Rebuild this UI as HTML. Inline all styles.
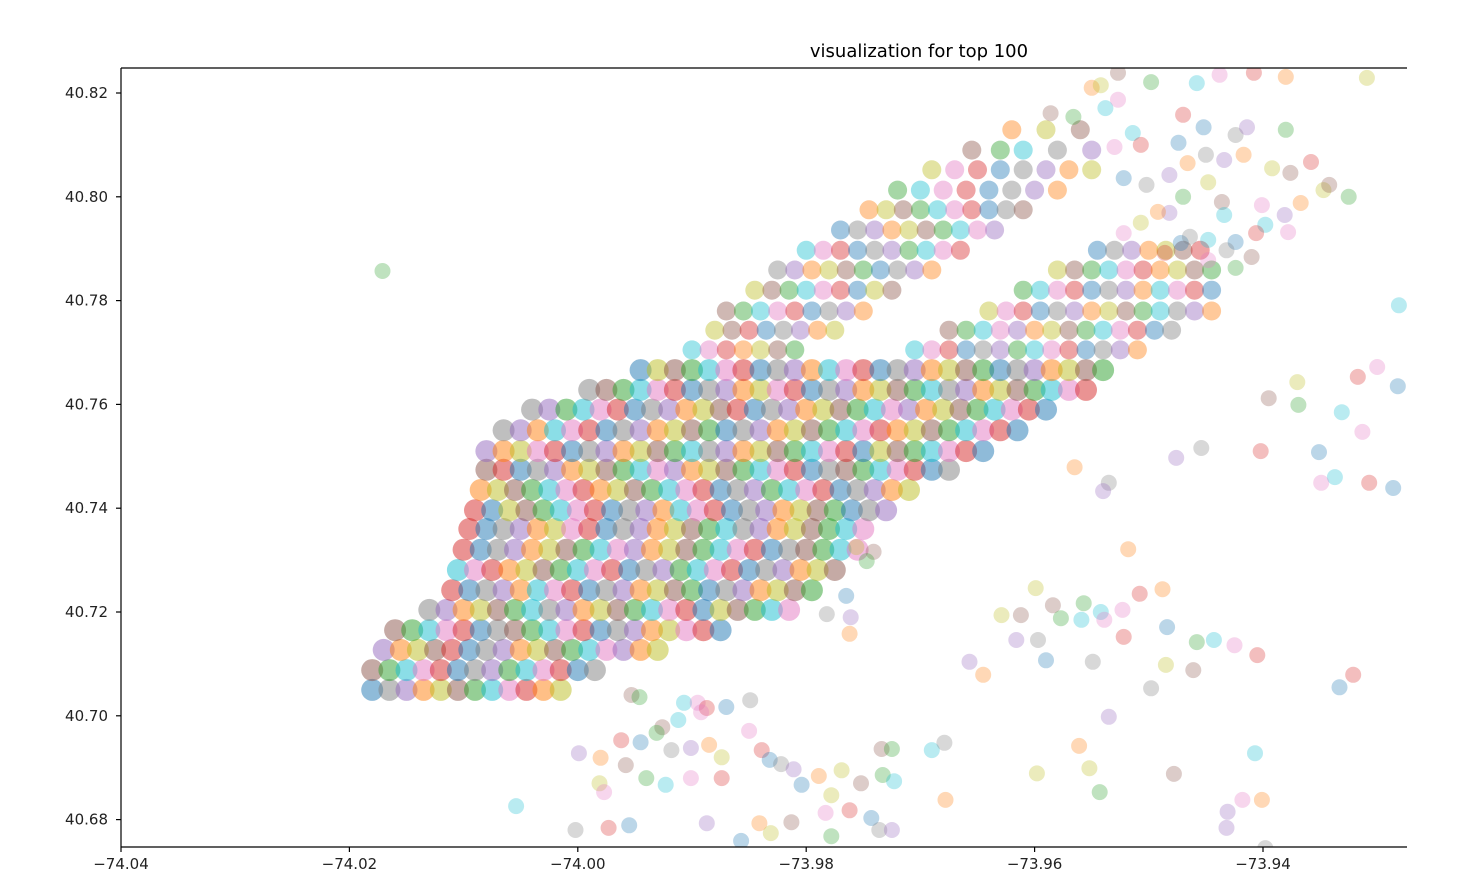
<!DOCTYPE html>
<html><head><meta charset="utf-8"><style>
html,body{margin:0;padding:0;background:#fff;}
svg{display:block;font-family:"DejaVu Sans","Liberation Sans",sans-serif;}
</style></head>
<body>
<svg id="chart" width="1478" height="892" viewBox="0 0 1478 892" xmlns="http://www.w3.org/2000/svg">
<defs><clipPath id="clip"><rect x="121" y="68" width="1286" height="779"/></clipPath></defs>
<text x="919" y="57" font-size="18" text-anchor="middle" fill="#000">visualization for top 100</text>
<g id="points" clip-path="url(#clip)"></g>
<g id="axes"></g>
</svg>
<script>
const xTicks=[-74.04,-74.02,-74.00,-73.98,-73.96,-73.94];
const xTickLabels=["\u221274.04","\u221274.02","\u221274.00","\u221273.98","\u221273.96","\u221273.94"];
const yTicks=[40.82,40.80,40.78,40.76,40.74,40.72,40.70,40.68];
const yTickLabels=["40.82","40.80","40.78","40.76","40.74","40.72","40.70","40.68"];
const rowLats=[40.705,40.7088,40.7127,40.7165,40.7204,40.7242,40.7281,40.732,40.736,40.7396,40.7435,40.7474,40.751,40.755,40.759,40.7628,40.7666,40.7705,40.7743,40.778,40.782,40.7859,40.7897,40.7936,40.7975,40.8013,40.8052,40.809,40.8129];
const rowLons=[
[-74.018,-74.0165,-74.015,-74.0135,-74.012,-74.0105,-74.009,-74.0075,-74.006,-74.0045,-74.003,-74.0015],
[-74.018,-74.0165,-74.015,-74.0135,-74.012,-74.0105,-74.009,-74.0075,-74.006,-74.0045,-74.003,-74.0015,-74.000,-73.9985],
[-74.017,-74.0155,-74.014,-74.0125,-74.011,-74.0095,-74.008,-74.0065,-74.005,-74.0035,-74.002,-74.0005,-73.999,-73.9975,-73.996,-73.9945,-73.993],
[-74.016,-74.0145,-74.013,-74.0115,-74.010,-74.0085,-74.007,-74.0055,-74.004,-74.0025,-74.001,-73.9995,-73.998,-73.9965,-73.995,-73.9935,-73.992,-73.9905,-73.989,-73.9875],
[-74.013,-74.0115,-74.010,-74.0085,-74.007,-74.0055,-74.004,-74.0025,-74.001,-73.9995,-73.998,-73.9965,-73.995,-73.9935,-73.992,-73.9905,-73.989,-73.9875,-73.986,-73.9845,-73.983,-73.9815],
[-74.011,-74.0095,-74.008,-74.0065,-74.005,-74.0035,-74.002,-74.0005,-73.999,-73.9975,-73.996,-73.9945,-73.993,-73.9915,-73.990,-73.9885,-73.987,-73.9855,-73.984,-73.9825,-73.981,-73.9795],
[-74.0105,-74.009,-74.0075,-74.006,-74.0045,-74.003,-74.0015,-74.000,-73.9985,-73.997,-73.9955,-73.994,-73.9925,-73.991,-73.9895,-73.988,-73.9865,-73.985,-73.9835,-73.982,-73.9805,-73.979,-73.9775],
[-74.010,-74.0085,-74.007,-74.0055,-74.004,-74.0025,-74.001,-73.9995,-73.998,-73.9965,-73.995,-73.9935,-73.992,-73.9905,-73.989,-73.9875,-73.986,-73.9845,-73.983,-73.9815,-73.980,-73.9785,-73.977,-73.9755],
[-74.0095,-74.008,-74.0065,-74.005,-74.0035,-74.002,-74.0005,-73.999,-73.9975,-73.996,-73.9945,-73.993,-73.9915,-73.990,-73.9885,-73.987,-73.9855,-73.984,-73.9825,-73.981,-73.9795,-73.978,-73.9765,-73.975],
[-74.009,-74.0075,-74.006,-74.0045,-74.003,-74.0015,-74.000,-73.9985,-73.997,-73.9955,-73.994,-73.9925,-73.991,-73.9895,-73.988,-73.9865,-73.985,-73.9835,-73.982,-73.9805,-73.979,-73.9775,-73.976,-73.9745,-73.973],
[-74.0085,-74.007,-74.0055,-74.004,-74.0025,-74.001,-73.9995,-73.998,-73.9965,-73.995,-73.9935,-73.992,-73.9905,-73.989,-73.9875,-73.986,-73.9845,-73.983,-73.9815,-73.980,-73.9785,-73.977,-73.9755,-73.974,-73.9725,-73.971],
[-74.008,-74.0065,-74.005,-74.0035,-74.002,-74.0005,-73.999,-73.9975,-73.996,-73.9945,-73.993,-73.9915,-73.990,-73.9885,-73.987,-73.9855,-73.984,-73.9825,-73.981,-73.9795,-73.978,-73.9765,-73.975,-73.9735,-73.972,-73.9705,-73.969,-73.9675],
[-74.008,-74.0065,-74.005,-74.0035,-74.002,-74.0005,-73.999,-73.9975,-73.996,-73.9945,-73.993,-73.9915,-73.990,-73.9885,-73.987,-73.9855,-73.984,-73.9825,-73.981,-73.9795,-73.978,-73.9765,-73.975,-73.9735,-73.972,-73.9705,-73.969,-73.9675,-73.966,-73.9645],
[-74.0065,-74.005,-74.0035,-74.002,-74.0005,-73.999,-73.9975,-73.996,-73.9945,-73.993,-73.9915,-73.990,-73.9885,-73.987,-73.9855,-73.984,-73.9825,-73.981,-73.9795,-73.978,-73.9765,-73.975,-73.9735,-73.972,-73.9705,-73.969,-73.9675,-73.966,-73.9645,-73.963,-73.9615],
[-74.004,-74.0025,-74.001,-73.9995,-73.998,-73.9965,-73.995,-73.9935,-73.992,-73.9905,-73.989,-73.9875,-73.986,-73.9845,-73.983,-73.9815,-73.980,-73.9785,-73.977,-73.9755,-73.974,-73.9725,-73.971,-73.9695,-73.968,-73.9665,-73.965,-73.9635,-73.962,-73.9605,-73.959],
[-73.999,-73.9975,-73.996,-73.9945,-73.993,-73.9915,-73.990,-73.9885,-73.987,-73.9855,-73.984,-73.9825,-73.981,-73.9795,-73.978,-73.9765,-73.975,-73.9735,-73.972,-73.9705,-73.969,-73.9675,-73.966,-73.9645,-73.963,-73.9615,-73.960,-73.9585,-73.957,-73.9555],
[-73.9945,-73.993,-73.9915,-73.990,-73.9885,-73.987,-73.9855,-73.984,-73.9825,-73.981,-73.9795,-73.978,-73.9765,-73.975,-73.9735,-73.972,-73.9705,-73.969,-73.9675,-73.966,-73.9645,-73.963,-73.9615,-73.960,-73.9585,-73.957,-73.9555,-73.954],
[-73.990,-73.9885,-73.987,-73.9855,-73.984,-73.9825,-73.981,-73.9705,-73.969,-73.9675,-73.966,-73.9645,-73.963,-73.9615,-73.960,-73.9585,-73.957,-73.9555,-73.954,-73.9525,-73.951],
[-73.988,-73.9865,-73.985,-73.9835,-73.982,-73.9805,-73.979,-73.9775,-73.9675,-73.966,-73.9645,-73.963,-73.9615,-73.960,-73.9585,-73.957,-73.9555,-73.954,-73.9525,-73.951,-73.9495,-73.948],
[-73.987,-73.9855,-73.984,-73.9825,-73.981,-73.9795,-73.978,-73.9765,-73.975,-73.964,-73.9625,-73.961,-73.9595,-73.958,-73.9565,-73.955,-73.9535,-73.952,-73.9505,-73.949,-73.9475,-73.946,-73.9445],
[-73.9845,-73.983,-73.9815,-73.980,-73.9785,-73.977,-73.9755,-73.974,-73.9725,-73.961,-73.9595,-73.958,-73.9565,-73.955,-73.9535,-73.952,-73.9505,-73.949,-73.9475,-73.946,-73.9445],
[-73.9825,-73.981,-73.9795,-73.978,-73.9765,-73.975,-73.9735,-73.972,-73.9705,-73.969,-73.958,-73.9565,-73.955,-73.9535,-73.952,-73.9505,-73.949,-73.9475,-73.946,-73.9445],
[-73.980,-73.9785,-73.977,-73.9755,-73.974,-73.9725,-73.971,-73.9695,-73.968,-73.9665,-73.9545,-73.953,-73.9515,-73.950,-73.9485,-73.947,-73.9455],
[-73.977,-73.9755,-73.974,-73.9725,-73.971,-73.9695,-73.968,-73.9665,-73.965,-73.9635],
[-73.9745,-73.973,-73.9715,-73.970,-73.9685,-73.967,-73.9655,-73.964,-73.9625,-73.961],
[-73.972,-73.970,-73.968,-73.966,-73.964,-73.962,-73.960,-73.958],
[-73.969,-73.967,-73.965,-73.963,-73.961,-73.959,-73.957,-73.955],
[-73.9655,-73.963,-73.961,-73.958,-73.955],
[-73.962,-73.959,-73.956]
];
const scatterLons=[-74.0171,-73.9281,-73.930,-73.9317,-73.9282,-73.937,-73.9395,-73.9369,-73.9331,-73.9313,-73.9402,-73.9351,-73.9454,-73.9476,-73.9565,-73.9337,-73.9349,-73.9307,-73.9286,-73.9535,-73.954,-73.9518,-73.9756,-73.9741,-73.9747,-73.9765,-73.9782,-73.9761,-73.9762,-73.9599,-73.9584,-73.9557,-73.9542,-73.9523,-73.9508,-73.9488,-73.9629,-73.9612,-73.9577,-73.9559,-73.9539,-73.9522,-73.9484,-73.9597,-73.9616,-73.9458,-73.9443,-73.9425,-73.9405,-73.959,-73.9549,-73.9657,-73.9645,-73.9485,-73.9461,-73.9321,-73.9333,-73.9498,-73.9535,-73.9561,-73.9552,-73.9478,-73.9543,-73.9407,-73.9418,-73.9432,-73.9401,-73.9598,-73.9953,-73.9946,-73.9907,-73.9895,-73.9887,-73.987,-73.9849,-73.9926,-73.9931,-73.9912,-73.9892,-73.9962,-73.9945,-73.9918,-73.9901,-73.9885,-73.9874,-73.985,-73.9839,-73.9832,-73.9822,-73.9811,-73.9789,-73.9769,-73.9734,-73.9725,-73.969,-73.9679,-73.9999,-73.998,-73.9981,-73.9958,-73.994,-73.9923,-73.9901,-73.9874,-73.9804,-73.9778,-73.9752,-73.9733,-73.9723,-73.9783,-73.9762,-73.9743,-73.9736,-73.9725,-73.9678,-74.0054,-73.9977,-73.9973,-73.9955,-74.0002,-73.9887,-73.9841,-73.9831,-73.9813,-73.9778,-73.9857,-73.9398,-73.9431];
const scatterLats=[40.7857,40.7791,40.7672,40.7653,40.7635,40.7643,40.7612,40.7599,40.7585,40.7547,40.751,40.7508,40.7516,40.7497,40.7479,40.746,40.7449,40.7449,40.7439,40.7449,40.7433,40.7321,40.7325,40.7316,40.7298,40.7231,40.7196,40.719,40.7158,40.7246,40.7213,40.7217,40.720,40.7204,40.7235,40.7244,40.7194,40.7194,40.7188,40.7185,40.7185,40.7152,40.7171,40.7146,40.7146,40.7142,40.7146,40.7136,40.7117,40.7107,40.7104,40.7104,40.7079,40.7098,40.7088,40.7079,40.7055,40.7053,40.6998,40.6942,40.6899,40.6888,40.6853,40.6928,40.6838,40.6784,40.6838,40.6889,40.704,40.7036,40.7025,40.7025,40.7015,40.7017,40.703,40.6978,40.6967,40.6992,40.7007,40.6953,40.6949,40.6934,40.6938,40.6944,40.692,40.6971,40.6934,40.6915,40.6907,40.6897,40.6884,40.6895,40.6936,40.6936,40.6934,40.6948,40.6928,40.6919,40.687,40.6905,40.688,40.6867,40.688,40.688,40.6867,40.6847,40.687,40.6886,40.6874,40.6813,40.6818,40.6803,40.678,40.678,40.6838,40.6826,40.6853,40.6784,40.6789,40.678,40.6793,40.6793,40.6774,40.6795,40.6768,40.6759,40.6745,40.6815];
const harlemLons=[-73.955,-73.9542,-73.9527,-73.9498,-73.9458,-73.9438,-73.9408,-73.938,-73.9309,-73.9586,-73.9566,-73.9538,-73.9527,-73.947,-73.9452,-73.9424,-73.9414,-73.938,-73.9514,-73.953,-73.9507,-73.9474,-73.945,-73.9434,-73.9417,-73.9392,-73.9376,-73.9358,-73.9522,-73.9502,-73.9482,-73.9466,-73.9448,-73.9436,-73.947,-73.9434,-73.9401,-73.9381,-73.9367,-73.9347,-73.9342,-73.9325,-73.9398,-73.9378,-73.9406,-73.9424,-73.9432,-73.941,-73.9424,-73.9448,-73.9448,-73.9486,-73.9472,-73.9464,-73.9482,-73.9492,-73.9507,-73.9522];
const harlemLats=[40.821,40.8215,40.8239,40.8221,40.8219,40.8235,40.8239,40.8231,40.8229,40.8161,40.8154,40.8171,40.8187,40.8158,40.8134,40.8119,40.8134,40.8129,40.8123,40.8096,40.81,40.8104,40.8081,40.8071,40.8081,40.8055,40.8046,40.8067,40.8036,40.8023,40.8042,40.8065,40.8028,40.799,40.80,40.7965,40.7984,40.7965,40.7988,40.8013,40.8023,40.80,40.7946,40.7932,40.793,40.7913,40.7897,40.7884,40.7863,40.7917,40.7878,40.7892,40.7911,40.7923,40.7969,40.7971,40.795,40.793];

const palette=["#1f77b4","#ff7f0e","#2ca02c","#d62728","#9467bd","#8c564b","#e377c2","#7f7f7f","#bcbd22","#17becf"];
const X0=121,PX_PER_LON=228.4/0.02,Y0=93,PX_PER_LAT=103.8/0.02;
function xScale(lon){return X0+(lon-(-74.04))*PX_PER_LON;}
function yScale(lat){return Y0+(40.82-lat)*PX_PER_LAT;}
const NS="http://www.w3.org/2000/svg";
const gp=document.getElementById('points');
let k=0;
function addPoint(lon,lat,r,op){
  const c=document.createElementNS(NS,'circle');
  c.setAttribute('cx',xScale(lon).toFixed(1));
  c.setAttribute('cy',yScale(lat).toFixed(1));
  c.setAttribute('r',r);
  c.setAttribute('fill',palette[(k*7+Math.floor(k/10))%10]);
  c.setAttribute('fill-opacity',op);
  
  
  gp.appendChild(c);k++;
}
rowLats.forEach((lat,i)=>{
  const core=i<17;
  rowLons[i].forEach(lon=>addPoint(lon,lat,core?'11':'9.5',core?'0.5':'0.42'));
});
scatterLons.forEach((lon,i)=>addPoint(lon,scatterLats[i],'8','0.3'));
harlemLons.forEach((lon,i)=>addPoint(lon,harlemLats[i],'8','0.3'));

const ga=document.getElementById('axes');
function line(x1,y1,x2,y2,name){
  const l=document.createElementNS(NS,'line');
  l.setAttribute('x1',x1);l.setAttribute('y1',y1);l.setAttribute('x2',x2);l.setAttribute('y2',y2);
  l.setAttribute('stroke','#000');l.setAttribute('stroke-width','1.2');
  
  
  ga.appendChild(l);
}
line(121,68,121,847,'y-axis-spine');
line(121,847,1407,847,'x-axis-spine');
line(121,68,1407,68,'top-spine');
function txt(x,y,s,anchor,name){
  const t=document.createElementNS(NS,'text');
  t.setAttribute('x',x);t.setAttribute('y',y);t.setAttribute('font-size','15');
  t.setAttribute('text-anchor',anchor);t.setAttribute('fill','#222');
  t.textContent=s;
  
  
  ga.appendChild(t);
}
xTicks.forEach((v,i)=>{const x=xScale(v);line(x,847,x,852,'x-tick');txt(x,869,xTickLabels[i],'middle','x-tick-label');});
yTicks.forEach((v,i)=>{const y=yScale(v);line(116,y,121,y,'y-tick');txt(108,y+5,yTickLabels[i],'end','y-tick-label');});
</script>
</body></html>
